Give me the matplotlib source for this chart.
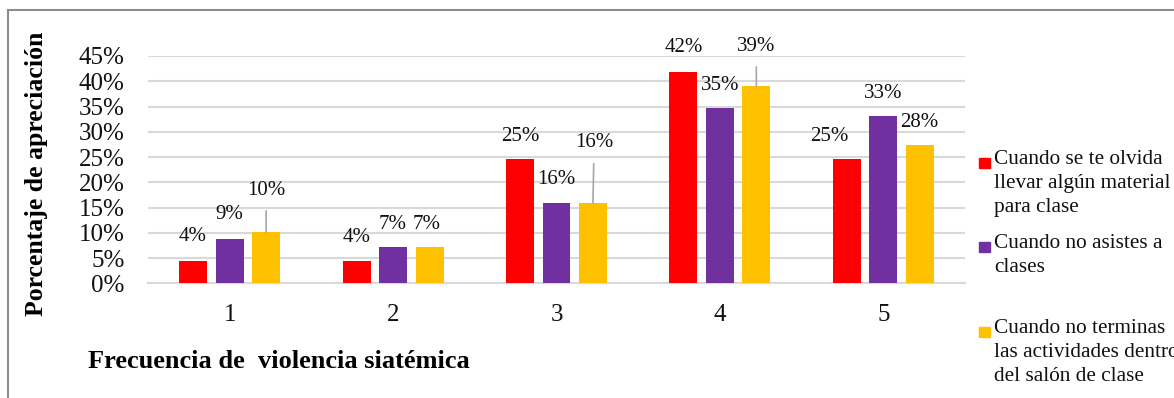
import matplotlib
matplotlib.use("Agg")
import matplotlib.pyplot as plt
from matplotlib.patches import Rectangle
import numpy as np

plt.rcParams['font.family'] = ['Liberation Serif', 'DejaVu Serif']

categories = ['1', '2', '3', '4', '5']
series_names = [
    "Cuando se te olvida\nllevar algún material\npara clase",
    "Cuando no asistes a\nclases",
    "Cuando no terminas\nlas actividades dentro\ndel salón de clase",
]
olvida = [4.4, 4.4, 24.6, 41.9, 24.6]
no_asistes = [8.8, 7.2, 15.9, 34.7, 33.2]
no_terminas = [10.1, 7.2, 15.9, 39.0, 27.4]
labels_olvida = ['4%', '4%', '25%', '42%', '25%']
labels_asistes = ['9%', '7%', '16%', '35%', '33%']
labels_terminas = ['10%', '7%', '16%', '39%', '28%']
yticks = [0, 5, 10, 15, 20, 25, 30, 35, 40, 45]
ylabel = "Porcentaje de apreciación"
xlabel = "Frecuencia de  violencia siatémica"

colors = ['#FF0000', '#7030A0', '#FFC000']
W, H = 1174, 398
fig = plt.figure(figsize=(W / 100, H / 100), dpi=100)

def px(x0, y0, x1, y1):
    return [x0 / W, 1 - y1 / H, (x1 - x0) / W, (y1 - y0) / H]

ax = fig.add_axes(px(148, 56, 965, 283.3))
x = np.arange(len(categories))
bw = 0.171
step = 0.223
series = [olvida, no_asistes, no_terminas]
labs = [labels_olvida, labels_asistes, labels_terminas]

# label offsets in pixels (dx, dy) from bar-top centre, and whether a leader line is used
offsets = [
    [(-1, 25), (0, 24), (0, 23), (0, 24), (-18, 23)],
    [(0, 24), (0, 22), (0, 23), (0, 23), (0, 22)],
    [(0, 42), (-3, 22), (1, 60), (0, 40), (0, 22)],
]
leaders = [
    [False] * 5,
    [False] * 5,
    [True, False, True, True, False],
]

for i, (vals, c) in enumerate(zip(series, colors)):
    xs = x + (i - 1) * step
    ax.bar(xs, vals, width=bw, color=c, zorder=3)
    for j, (xx, v) in enumerate(zip(xs, vals)):
        dx, dy = offsets[i][j]
        kw = {}
        if leaders[i][j]:
            kw['arrowprops'] = dict(arrowstyle='-', color='#a6a6a6', lw=1.2,
                                    shrinkA=6, shrinkB=0, relpos=(0.5, 0.0))
        ax.annotate(labs[i][j], xy=(xx, v), xytext=(dx, dy),
                    textcoords='offset pixels', ha='center', va='center',
                    fontsize=15, color='#111111', annotation_clip=False, **kw)

ax.set_xlim(-0.5, 4.5)
ax.set_ylim(0, 45)
ax.set_yticks(yticks)
ax.set_yticklabels([f"{t}%" for t in yticks])
ax.set_xticks(x)
ax.set_xticklabels(categories)
ax.yaxis.grid(True, color='#d9d9d9', lw=1.5, zorder=0)
ax.set_axisbelow(True)
for s in ['top', 'right', 'left']:
    ax.spines[s].set_visible(False)
ax.spines['bottom'].set_color('#d9d9d9')
ax.spines['bottom'].set_linewidth(1.5)
ax.tick_params(axis='both', length=0, labelsize=18, colors='#111111')
ax.tick_params(axis='y', pad=17)
ax.tick_params(axis='x', pad=15)

fig.text(37 / W, 1 - 174 / H, ylabel, rotation=90, ha='center', va='center',
         fontsize=18.5, fontweight='bold')
fig.text(88 / W, 1 - 362 / H, xlabel, ha='left', va='center',
         fontsize=19, fontweight='bold')

# legend (manual)
leg_y = [163, 247, 332]
for name, c, y in zip(series_names, colors, leg_y):
    fig.patches.append(Rectangle((979 / W, 1 - (y + 5) / H), 11 / W, 10 / H,
                                 transform=fig.transFigure, color=c))
    fig.text(994 / W, 1 - (y - 13) / H, name, ha='left', va='top',
             fontsize=15.3, linespacing=1.34, color='#111111')

# outer border
fig.patches.append(Rectangle((8 / W, -0.1), 1.2, 1 - 10 / H + 0.1,
                             transform=fig.transFigure, fill=False,
                             edgecolor='#8c8c8c', lw=1.5))

fig.savefig('out.png', dpi=100)
